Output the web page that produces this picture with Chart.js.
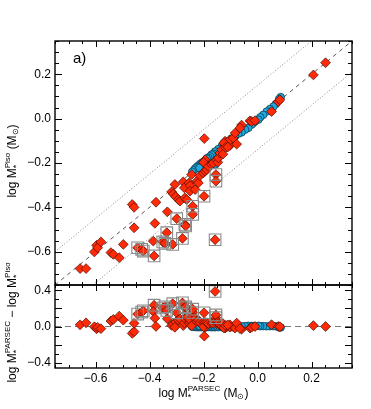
<!DOCTYPE html>
<html>
<head>
<meta charset="utf-8">
<script src="https://cdn.jsdelivr.net/npm/chart.js@4.4.1/dist/chart.umd.min.js"></script>
<style>
  html, body { margin: 0; padding: 0; background: #fff; }
  #wrap { position: relative; width: 371px; height: 409px; }
</style>
</head>
<body>
<div id="wrap"><canvas id="chart" width="371" height="409"></canvas></div>
<script>
// log M PARSEC (x), log M Piso (y) and their difference
const redX = [-0.657, -0.635, -0.604, -0.596, -0.592, -0.580, -0.543, -0.534, -0.512, -0.497,
  -0.464, -0.457, -0.457, -0.444, -0.429, -0.423, -0.383, -0.386, -0.380, -0.376,
  -0.351, -0.343, -0.334, -0.336, -0.314, -0.299, -0.278, -0.269, -0.266, -0.240,
  -0.240, -0.198, -0.157, -0.154, -0.154, -0.318, -0.312, -0.303, -0.306, -0.293,
  -0.287, -0.275, -0.271, -0.269, -0.262, -0.254, -0.250, -0.250, -0.244, -0.231,
  -0.225, -0.219, -0.213, -0.201, -0.194, -0.194, -0.200, -0.188, -0.182, -0.170,
  -0.164, -0.151, -0.147, -0.145, -0.139, -0.133, -0.128, -0.120, -0.120, -0.114,
  -0.102, -0.102, -0.090, -0.083, -0.077, -0.059, -0.065, -0.028, -0.022, -0.009,
  0.052, 0.077, 0.083, 0.207, 0.252, -0.197, -0.125, -0.118, -0.110];
const redY = [-0.676, -0.676, -0.601, -0.571, -0.582, -0.556, -0.604, -0.612, -0.627, -0.567,
  -0.387, -0.400, -0.492, -0.582, -0.589, -0.597, -0.619, -0.552, -0.472, -0.377,
  -0.556, -0.562, -0.420, -0.514, -0.567, -0.451, -0.540, -0.477, -0.484, -0.395,
  -0.432, -0.350, -0.546, -0.252, -0.282, -0.330, -0.340, -0.352, -0.297, -0.365,
  -0.372, -0.285, -0.312, -0.357, -0.365, -0.290, -0.302, -0.327, -0.252, -0.320,
  -0.282, -0.290, -0.257, -0.245, -0.237, -0.185, -0.197, -0.230, -0.215, -0.207,
  -0.200, -0.185, -0.197, -0.177, -0.155, -0.140, -0.160, -0.117, -0.102, -0.110,
  -0.121, -0.095, -0.087, -0.065, -0.115, -0.029, -0.042, -0.010, -0.013, -0.009,
  0.032, 0.077, 0.085, 0.197, 0.252, -0.090, -0.110, -0.130, -0.128];
const redDiff = [0.019, 0.041, -0.003, -0.025, -0.010, -0.024, 0.061, 0.078, 0.115, 0.070,
  -0.077, -0.057, 0.035, 0.138, 0.160, 0.174, 0.236, 0.166, 0.092, 0.001,
  0.205, 0.219, 0.086, 0.178, 0.253, 0.152, 0.262, 0.208, 0.218, 0.155,
  0.192, 0.152, 0.389, 0.098, 0.128, 0.012, 0.028, 0.049, -0.009, 0.072,
  0.085, 0.010, 0.041, 0.088, 0.103, 0.036, 0.052, 0.077, 0.008, 0.089,
  0.057, 0.071, 0.044, 0.044, 0.043, -0.009, -0.003, 0.042, 0.033, 0.037,
  0.036, 0.034, 0.050, 0.032, 0.016, 0.007, 0.032, -0.003, -0.018, -0.004,
  0.019, -0.007, -0.003, -0.018, 0.038, -0.030, -0.023, -0.018, -0.009, 0.000,
  0.020, 0.000, -0.002, 0.010, 0.000, -0.107, -0.015, 0.012, 0.018];

const blueX = [0.086, 0.080, 0.068, 0.059, 0.046, 0.034, 0.021, 0.010, 0.003, -0.009,
  -0.016, -0.022, -0.034, -0.046, -0.059, -0.071, -0.083, -0.096, -0.108, -0.120,
  -0.133, -0.145, -0.157, -0.157, -0.164, -0.170, -0.176, -0.182, -0.188, -0.194,
  -0.201, -0.207, -0.213, -0.219, -0.225, -0.231, -0.236, -0.242, -0.205, -0.215, -0.195];
const blueY = [0.097, 0.088, 0.066, 0.055, 0.043, 0.032, 0.017, 0.006, -0.005, -0.013,
  -0.020, -0.027, -0.042, -0.050, -0.062, -0.068, -0.080, -0.090, -0.102, -0.112,
  -0.125, -0.137, -0.148, -0.207, -0.158, -0.162, -0.170, -0.177, -0.180, -0.190,
  -0.196, -0.200, -0.205, -0.212, -0.218, -0.225, -0.233, -0.240, -0.215, -0.222, -0.200];
const blueDiff = [-0.011, -0.008, 0.002, 0.004, 0.003, 0.002, 0.004, 0.004, 0.008, 0.004,
  0.004, 0.005, 0.008, 0.004, 0.003, -0.003, -0.003, -0.006, -0.006, -0.008,
  -0.008, -0.008, -0.009, 0.050, -0.006, -0.008, -0.006, -0.005, -0.008, -0.004,
  -0.005, -0.007, -0.008, -0.007, -0.007, -0.006, -0.003, -0.002, 0.010, 0.007, 0.005];

// stars flagged with an open grey square
const boxX = [-0.444, -0.429, -0.423, -0.383, -0.351, -0.343, -0.336, -0.314, -0.299, -0.278,
  -0.269, -0.266, -0.240, -0.240, -0.198, -0.157, -0.154, -0.154];
const boxY = [-0.582, -0.589, -0.597, -0.619, -0.556, -0.562, -0.514, -0.567, -0.451, -0.540,
  -0.477, -0.484, -0.395, -0.432, -0.350, -0.546, -0.252, -0.282];
const boxDiff = [0.138, 0.160, 0.174, 0.236, 0.205, 0.219, 0.178, 0.253, 0.152, 0.262,
  0.208, 0.218, 0.155, 0.192, 0.152, 0.389, 0.098, 0.128];

// reference lines (1:1, the two dotted envelopes, zero difference)
const oneToOneX = [-0.75, 0.35];
const oneToOneY = [-0.75, 0.35];
const upperEnvX = [-0.75, 0.20];
const upperEnvY = [-0.60, 0.35];
const lowerEnvX = [-0.61, 0.35];
const lowerEnvY = [-0.75, 0.21];
const zeroLineX = [-0.75, 0.35];
const zeroLineY = [0, 0];

const xTicks = [-0.6, -0.4, -0.2, 0.0, 0.2];
const yTopTicks = [-0.6, -0.4, -0.2, 0.0, 0.2];
const yBotTicks = [-0.4, -0.2, 0.0, 0.2, 0.4];

const FONT = "'Liberation Sans', Helvetica, Arial, sans-serif";
Chart.defaults.font.family = FONT;

const pairs = (xs, ys) => xs.map((x, i) => ({ x, y: ys[i] }));

function fmtTick(value) {
  const v = Math.abs(value) < 1e-9 ? 0 : value;
  return (v < 0 ? "\u2212" : "") + Math.abs(v).toFixed(1);
}

const RED = "#ff2a08";
const RED_EDGE = "#4a0c00";
const BLUE = "#1ea9e0";
const BLUE_EDGE = "#08303f";
const BOX = "#8a8a8a";

function markSet(data, axis, style) {
  return Object.assign({ data, yAxisID: axis, showLine: false }, style);
}

const boxStyle = { pointStyle: "rect", pointRadius: 8.2, backgroundColor: "rgba(0,0,0,0)", borderColor: BOX, borderWidth: 1.1 };
const redStyle = { pointStyle: "rectRot", pointRadius: 4.9, backgroundColor: RED, borderColor: RED_EDGE, borderWidth: 0.7 };
const blueStyle = { pointStyle: "circle", pointRadius: 3.8, backgroundColor: BLUE, borderColor: BLUE_EDGE, borderWidth: 0.7 };

function refLine(xs, ys, axis, dash, color) {
  return { data: pairs(xs, ys), yAxisID: axis, showLine: true, pointRadius: 0,
    borderColor: color, borderWidth: 1, borderDash: dash, fill: false };
}

function yScale(min, max, ticks, weight) {
  return {
    type: "linear", position: "left", stack: "panels", stackWeight: weight,
    min, max,
    afterFit(scale) { scale.width = 55; },
    afterBuildTicks(scale) { scale.ticks = ticks.map((v) => ({ value: v })); },
    ticks: { callback: fmtTick, padding: 4, color: "#000", font: { size: 12 } },
    grid: { display: false, drawTicks: false },
    border: { display: false }
  };
}

// rich text with sub/superscripts; each group shares one x position
function drawRich(ctx, groups, x, y, angle) {
  const widthOf = (p) => { ctx.font = p.size + "px " + FONT; return ctx.measureText(p.t).width; };
  const advances = groups.map((g) => Math.max(...g.map(widthOf)));
  const total = advances.reduce((a, b) => a + b, 0);
  ctx.save();
  ctx.translate(x, y);
  ctx.rotate(angle);
  ctx.fillStyle = "#000";
  ctx.textBaseline = "alphabetic";
  ctx.textAlign = "left";
  let cx = -total / 2;
  groups.forEach((g, i) => {
    g.forEach((p) => {
      ctx.font = p.size + "px " + FONT;
      ctx.fillText(p.t, cx, p.dy);
    });
    cx += advances[i];
  });
  ctx.restore();
}

const mStar = (sup) => [{ t: "*", size: 9, dy: 3 }, { t: sup, size: 8, dy: -6 }];
const big = (t) => [{ t, size: 12, dy: 0 }];
const sun = [{ t: "\u2299", size: 8, dy: 2 }];

const framePlugin = {
  id: "frame",
  afterDraw(chart) {
    const ctx = chart.ctx;
    const xs = chart.scales.x;
    const area = chart.chartArea;
    const panels = [
      { s: chart.scales.yTop, from: -0.75, step: 0.05, count: 22 },
      { s: chart.scales.yBot, from: -0.4, step: 0.1, count: 8 }
    ];
    const isMajor = (v) => Math.abs(v * 5 - Math.round(v * 5)) < 1e-6;
    ctx.save();
    ctx.strokeStyle = "#000";
    panels.forEach((p) => {
      const top = p.s.top;
      const bot = p.s.bottom;
      ctx.lineWidth = 1;
      ctx.beginPath();
      for (let k = 0; k <= 22; k++) {
        const v = -0.75 + k * 0.05;
        const px = Math.round(xs.getPixelForValue(v)) + 0.5;
        const len = isMajor(v) ? 6 : 3;
        ctx.moveTo(px, top); ctx.lineTo(px, top + len);
        ctx.moveTo(px, bot); ctx.lineTo(px, bot - len);
      }
      for (let k = 0; k <= p.count; k++) {
        const v = p.from + k * p.step;
        const py = Math.round(p.s.getPixelForValue(v)) + 0.5;
        const len = isMajor(v) ? 7 : 4;
        ctx.moveTo(area.left, py); ctx.lineTo(area.left + len, py);
        ctx.moveTo(area.right, py); ctx.lineTo(area.right - len, py);
      }
      ctx.stroke();
      ctx.lineWidth = 1.4;
      ctx.strokeRect(area.left, top, area.right - area.left, bot - top);
    });
    ctx.restore();

    ctx.save();
    ctx.fillStyle = "#000";
    ctx.font = "15px " + FONT;
    ctx.fillText("a)", 73, 63);
    ctx.restore();

    const topMid = (chart.scales.yTop.top + chart.scales.yTop.bottom) / 2;
    const botMid = (chart.scales.yBot.top + chart.scales.yBot.bottom) / 2;
    drawRich(ctx, [big("log M"), mStar("Piso"), big(" (M"), sun, big(")")], 16, topMid - 2, -Math.PI / 2);
    drawRich(ctx, [big("log M"), mStar("PARSEC"), big(" \u2212 log M"), mStar("Piso")], 16, botMid - 4, -Math.PI / 2);
    drawRich(ctx, [big("log M"), mStar("PARSEC"), big(" (M"), sun, big(")")], (area.left + area.right) / 2, 397, 0);
  }
};

new Chart(document.getElementById("chart"), {
  type: "scatter",
  data: {
    datasets: [
      markSet(pairs(boxX, boxY), "yTop", boxStyle),
      markSet(pairs(boxX, boxDiff), "yBot", boxStyle),
      markSet(pairs(redX, redY), "yTop", redStyle),
      markSet(pairs(redX, redDiff), "yBot", redStyle),
      markSet(pairs(blueX, blueY), "yTop", blueStyle),
      markSet(pairs(blueX, blueDiff), "yBot", blueStyle),
      refLine(oneToOneX, oneToOneY, "yTop", [4, 4], "#555"),
      refLine(upperEnvX, upperEnvY, "yTop", [1, 2], "#888"),
      refLine(lowerEnvX, lowerEnvY, "yTop", [1, 2], "#888"),
      refLine(zeroLineX, zeroLineY, "yBot", [6, 4], "#777")
    ]
  },
  options: {
    responsive: false,
    animation: false,
    layout: { padding: { top: 41, right: 19, left: 0, bottom: 0 } },
    plugins: { legend: { display: false }, tooltip: { enabled: false } },
    scales: {
      x: {
        type: "linear", position: "bottom", min: -0.75, max: 0.35,
        afterFit(scale) { scale.height = 41; },
        afterBuildTicks(scale) { scale.ticks = xTicks.map((v) => ({ value: v })); },
        ticks: { callback: fmtTick, padding: 3, color: "#000", font: { size: 12 }, maxRotation: 0, autoSkip: false },
        grid: { display: false, drawTicks: false },
        border: { display: false }
      },
      yBot: yScale(-0.46, 0.46, yBotTicks, 83),
      yTop: yScale(-0.75, 0.35, yTopTicks, 244)
    }
  },
  plugins: [framePlugin]
});
</script>
</body>
</html>
